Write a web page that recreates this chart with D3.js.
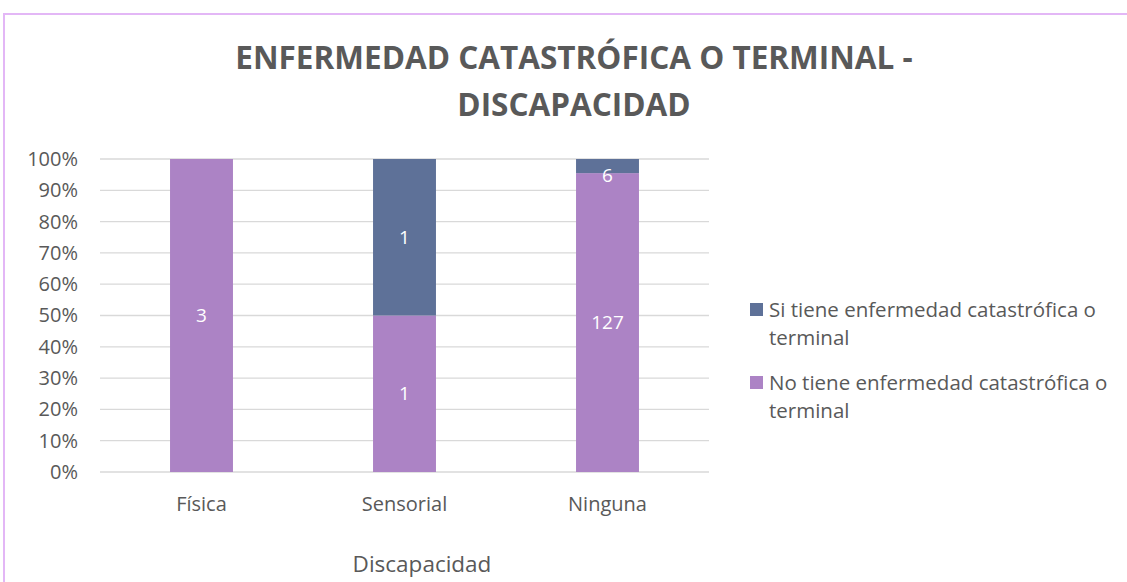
<!DOCTYPE html>
<html>
<head>
<meta charset="utf-8">
<script src="https://cdn.jsdelivr.net/npm/d3@7"></script>
<style>
  body { margin: 0; background: #fff; }
  text { font-family: "Open Sans", "Noto Sans", sans-serif; }
</style>
</head>
<body>
<div id="chart"></div>
<script>
// categories and counts
var categories = ["Física", "Sensorial", "Ninguna"];
var siTiene = [0, 1, 6];
var noTiene = [3, 1, 127];
var seriesNames = ["Si tiene enfermedad catastrófica o terminal", "No tiene enfermedad catastrófica o terminal"];
var yTicks = [0, 0.1, 0.2, 0.3, 0.4, 0.5, 0.6, 0.7, 0.8, 0.9, 1];

var W = 1127, H = 582;
var colNo = "#ac83c5", colSi = "#5e7198", textCol = "#595959";

var svg = d3.select("#chart").append("svg")
  .attr("width", W).attr("height", H);

// chart frame (only top and left edges visible)
svg.append("path")
  .attr("d", "M4,582 V14 H1127")
  .attr("fill", "none")
  .attr("stroke", "#e3b7f6")
  .attr("stroke-width", 2);

// title
var title = svg.append("text")
  .attr("text-anchor", "middle")
  .attr("fill", textCol)
  .attr("font-weight", "bold")
  .attr("font-size", 31.5);
title.append("tspan").attr("x", 574).attr("y", 69).text("ENFERMEDAD CATASTRÓFICA O TERMINAL -");
title.append("tspan").attr("x", 574).attr("y", 116).text("DISCAPACIDAD");

var x = d3.scaleBand().domain(categories).range([100, 709]).paddingInner(0.69).paddingOuter(0.345);
var y = d3.scaleLinear().domain([0, 1]).range([472, 159]);

// gridlines
svg.append("g").selectAll("line").data(yTicks).join("line")
  .attr("x1", 100).attr("x2", 709)
  .attr("y1", d => y(d)).attr("y2", d => y(d))
  .attr("stroke", "#d9d9d9").attr("stroke-width", 1.3);

// y axis labels
var yAxis = svg.append("g").attr("transform", "translate(78,0)")
  .call(d3.axisLeft(y).tickValues(yTicks).tickFormat(d3.format(".0%")).tickSize(0).tickPadding(0));
yAxis.select(".domain").remove();
yAxis.selectAll("text").attr("fill", textCol).attr("font-size", 20)
  .attr("font-family", "Open Sans, sans-serif").attr("x", 0);

// stacked data, as shares of each category total
var rows = categories.map((c, i) => {
  var t = siTiene[i] + noTiene[i];
  return { cat: c, no: noTiene[i] / t, si: siTiene[i] / t, nNo: noTiene[i], nSi: siTiene[i] };
});
var stack = d3.stack().keys(["no", "si"])(rows);
var colors = { no: colNo, si: colSi };
var counts = { no: "nNo", si: "nSi" };

stack.forEach(function(layer) {
  var g = svg.append("g");
  g.selectAll("rect").data(layer).join("rect")
    .attr("x", d => x(d.data.cat))
    .attr("width", x.bandwidth())
    .attr("y", d => y(d[1]))
    .attr("height", d => y(d[0]) - y(d[1]))
    .attr("fill", colors[layer.key]);
  // label sits at the segment middle, but is kept inside the bar when the segment is thin
  g.selectAll("text").data(layer.filter(d => d.data[counts[layer.key]] > 0)).join("text")
    .attr("x", d => x(d.data.cat) + x.bandwidth() / 2)
    .attr("y", d => Math.max((y(d[0]) + y(d[1])) / 2, y(d[1]) + 16))
    .attr("dy", "0.35em")
    .attr("text-anchor", "middle")
    .attr("fill", "#fff")
    .attr("font-size", 19)
    .text(d => d.data[counts[layer.key]]);
});

// x axis labels
var xAxis = svg.append("g").attr("transform", "translate(0,472)")
  .call(d3.axisBottom(x).tickSize(0).tickPadding(0));
xAxis.select(".domain").remove();
xAxis.selectAll("text").attr("fill", textCol).attr("font-size", 20)
  .attr("font-family", "Open Sans, sans-serif").attr("dy", null).attr("y", 39);

// axis title
svg.append("text")
  .attr("x", 422).attr("y", 572)
  .attr("text-anchor", "middle")
  .attr("fill", textCol)
  .attr("font-size", 22.5)
  .text("Discapacidad");

// legend
var legendY = [317, 390];
seriesNames.forEach(function(name, i) {
  var words = name.split(" terminal");
  svg.append("rect")
    .attr("x", 750).attr("y", legendY[i] - 14)
    .attr("width", 13).attr("height", 13)
    .attr("fill", i === 0 ? colSi : colNo);
  var t = svg.append("text").attr("fill", textCol).attr("font-size", 20.5);
  t.append("tspan").attr("x", 769).attr("y", legendY[i]).text(words[0]);
  t.append("tspan").attr("x", 769).attr("y", legendY[i] + 28).text("terminal");
});
</script>
</body>
</html>
